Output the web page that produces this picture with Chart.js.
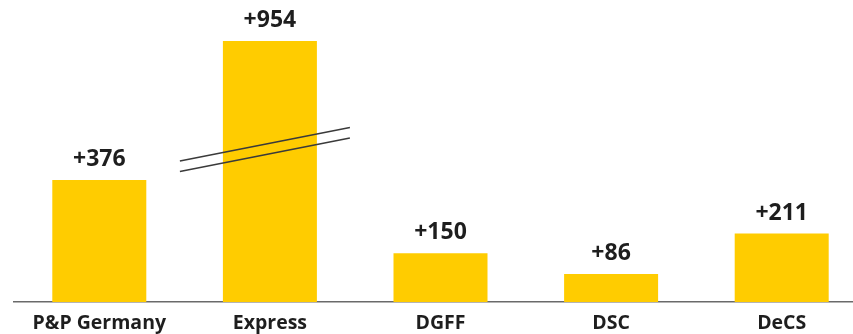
<!DOCTYPE html>
<html>
<head>
<meta charset="utf-8">
<script src="https://cdn.jsdelivr.net/npm/chart.js@4.4.1/dist/chart.umd.min.js"></script>
<style>
  html, body { margin: 0; padding: 0; background: #fff; overflow: hidden; }
  #wrap { width: 853px; height: 334px; overflow: hidden; position: relative; }
  canvas { display: block; }
</style>
</head>
<body>
<div id="wrap"><canvas id="c" width="870" height="334"></canvas></div>
<script>
const categories = ["P&P Germany", "Express", "DGFF", "DSC", "DeCS"];
const values = [376, 954, 150, 86, 211];
const valueLabels = ["+376", "+954", "+150", "+86", "+211"];
const brokenIndex = 1;
const axisMax = 805;

const YELLOW = "#FFCC00";
const TEXT = "#1e1e1e";

const labelPlugin = {
  id: "valueLabels",
  afterDraw(chart) {
    const ctx = chart.ctx;
    const meta = chart.getDatasetMeta(0);
    const area = chart.chartArea;
    ctx.save();
    // break lines on the truncated bar
    const b = meta.data[brokenIndex];
    ctx.strokeStyle = "#3a3a3a";
    ctx.lineWidth = 1.4;
    const x0 = b.x - 90, x1 = b.x + 80;
    [[161, 127.5], [171.5, 138]].forEach(([ya, yb]) => {
      ctx.beginPath();
      ctx.moveTo(x0, ya);
      ctx.lineTo(x1, yb);
      ctx.stroke();
    });
    ctx.fillStyle = TEXT;
    ctx.font = "bold 23px 'Open Sans'";
    ctx.textAlign = "center";
    ctx.textBaseline = "alphabetic";
    meta.data.forEach((bar, i) => {
      const top = Math.max(bar.y, area.top);
      ctx.fillText(valueLabels[i], bar.x, top - 14);
    });
    ctx.restore();
  }
};

new Chart(document.getElementById("c"), {
  type: "bar",
  data: {
    labels: categories,
    datasets: [{
      data: values,
      backgroundColor: YELLOW,
      borderWidth: 0,
      categoryPercentage: 1,
      barPercentage: 0.551,
      clip: 0
    }]
  },
  options: {
    responsive: false,
    animation: false,
    events: [],
    layout: { padding: { left: 14, right: 3, top: 41, bottom: 0 } },
    plugins: { legend: { display: false }, tooltip: { enabled: false } },
    scales: {
      x: {
        grid: { display: false, drawTicks: false },
        border: { display: true, color: "#6a6a6a", width: 1.5 },
        ticks: { color: TEXT, padding: 10, font: { family: "'Open Sans'", size: 19.5, weight: "bold" } },
        afterFit(s) { s.height = 32; }
      },
      y: {
        display: false,
        min: 0,
        max: axisMax
      }
    }
  },
  plugins: [labelPlugin]
});
</script>
</body>
</html>
